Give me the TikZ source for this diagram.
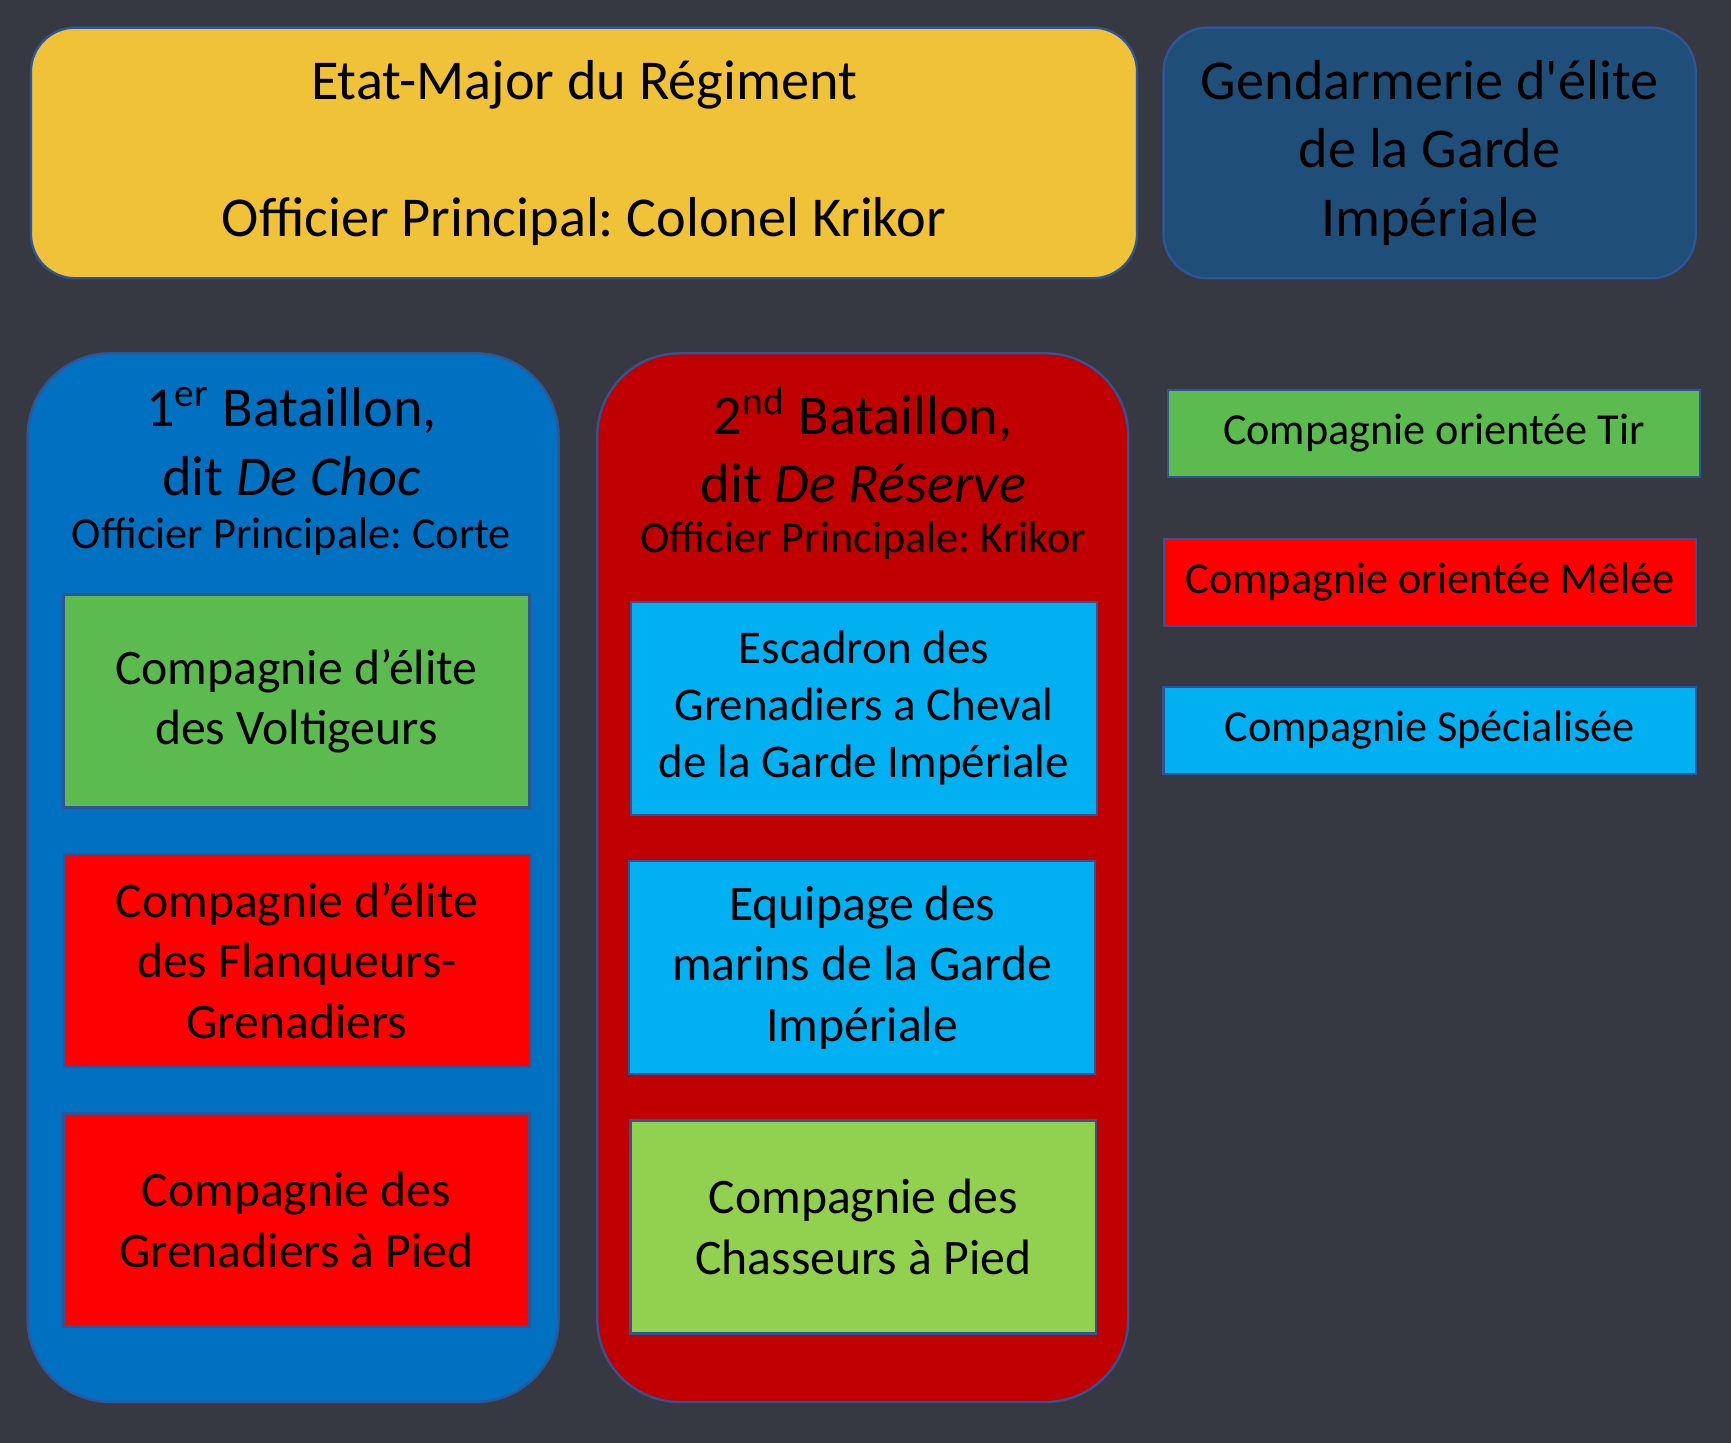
\documentclass[tikz,border=0pt]{standalone}
\usepackage{fontspec}
\setmainfont{Carlito}
\frenchspacing
\definecolor{fond}{HTML}{373942}
\definecolor{or}{HTML}{EFC237}
\definecolor{marine}{HTML}{1F4E79}
\definecolor{bleu}{HTML}{0070C0}
\definecolor{rougef}{HTML}{C00000}
\definecolor{vert}{HTML}{5BBB4E}
\definecolor{vertc}{HTML}{92D050}
\definecolor{cyan}{HTML}{00B0F0}
\definecolor{rouge}{HTML}{FF0000}
\definecolor{trait}{HTML}{2F5597}
\newcommand{\grand}{\fontsize{14.5}{17.6}\selectfont}
\newcommand{\moyen}{\fontsize{12.8}{15.6}\selectfont}
\newcommand{\petit}{\fontsize{11.4}{13.9}\selectfont}
\begin{document}
\begin{tikzpicture}[
  bloc/.style={draw=trait,line width=0.6pt,rounded corners=0.4cm,align=center,inner sep=0pt},
  bataillon/.style={draw=trait,line width=0.6pt,rounded corners=0.75cm,minimum width=4.81cm,minimum height=9.5cm},
  compagnie/.style={draw=trait,line width=0.6pt,align=center,minimum width=4.22cm,minimum height=1.93cm,font=\moyen},
  legende/.style={draw=trait,line width=0.6pt,minimum width=4.82cm,minimum height=0.79cm,font=\petit},
  titre/.style={align=center,font=\grand,inner sep=0pt}]
  \fill[fond] (0,0) rectangle (15.68,-13.07);
  \useasboundingbox (0,0) rectangle (15.68,-13.07);
  % haut
  \node[bloc,fill=or,minimum width=10.02cm,minimum height=2.27cm,font=\grand] (EM) at (5.29,-1.385) {Etat-Major du Régiment\\[17.6pt]Officier Principal: Colonel Krikor};
  \node[bloc,fill=marine,minimum width=4.82cm,minimum height=2.27cm,font=\grand] (GE) at (12.95,-1.385) {Gendarmerie d\textquotesingle élite\\de la Garde\\Impériale};
  % bataillons
  \node[bataillon,fill=bleu] (B1) at (2.655,-7.95) {};
  \node[bataillon,fill=rougef] (B2) at (7.815,-7.95) {};
  \node[titre] (T1) at (2.64,-4.00) {1\textsuperscript{er} Bataillon,\\dit \textit{De Choc}};
  \node[font=\petit,inner sep=0pt] (O1) at (2.64,-4.86) {Officier Principale: Corte};
  \node[titre] (T2) at (7.82,-4.03) {2\textsuperscript{nd} Bataillon,\\dit \textit{De Réserve}};
  \node[font=\petit,inner sep=0pt] (O2) at (7.82,-4.90) {Officier Principale: Krikor};
  % compagnies
  \node[compagnie,fill=vert] (C1) at (2.685,-6.35) {Compagnie d’élite\\des Voltigeurs};
  \node[compagnie,fill=rouge] (C2) at (2.69,-8.70) {Compagnie d’élite\\des Flanqueurs-\\Grenadiers};
  \node[compagnie,fill=rouge] (C3) at (2.685,-11.05) {Compagnie des\\Grenadiers à Pied};
  \node[compagnie,fill=cyan,font=\fontsize{12.1}{14.7}\selectfont] (C4) at (7.825,-6.415) {Escadron des\\Grenadiers a Cheval\\de la Garde Impériale};
  \node[compagnie,fill=cyan] (C5) at (7.81,-8.765) {Equipage des\\marins de la Garde\\Impériale};
  \node[compagnie,fill=vertc] (C6) at (7.82,-11.115) {Compagnie des\\Chasseurs à Pied};
  % legende
  \node[legende,fill=vert] (L1) at (12.99,-3.925) {Compagnie orientée Tir};
  \node[legende,fill=rouge] (L2) at (12.955,-5.275) {Compagnie orientée Mêlée};
  \node[legende,fill=cyan] (L3) at (12.95,-6.615) {Compagnie Spécialisée};
\end{tikzpicture}
\end{document}
